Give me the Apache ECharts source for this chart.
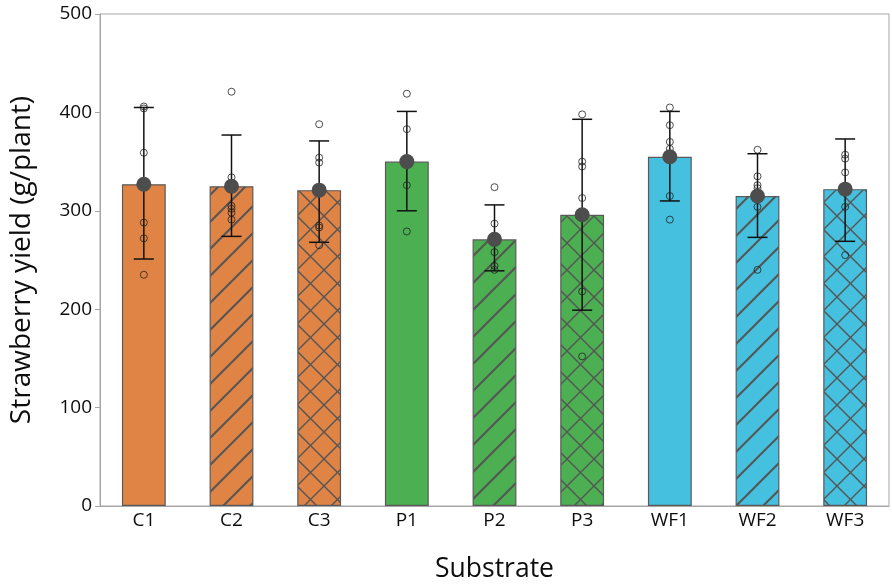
<!DOCTYPE html>
<html>
<head>
<meta charset="utf-8">
<script src="https://cdn.jsdelivr.net/npm/echarts@6/dist/echarts.min.js"></script>
<style>
  html, body { margin: 0; padding: 0; background: #fff; }
  #chart { width: 892px; height: 588px; }
</style>
</head>
<body>
<div id="chart"></div>
<script>
const categories = ["C1", "C2", "C3", "P1", "P2", "P3", "WF1", "WF2", "WF3"];
const means = [327, 325, 321, 350, 271, 296, 355, 315, 322];
const errLow = [251, 274, 268, 300, 239, 199, 310, 273, 269];
const errHigh = [405, 377, 371, 401, 306, 393, 401, 358, 373];
const points = [
  [406, 404, 359, 288, 272, 235],
  [421, 334, 305, 302, 298, 291],
  [388, 354, 349, 285, 283, 265],
  [419, 383, 350, 326, 279],
  [324, 287, 258, 244, 240],
  [398, 350, 345, 313, 218, 152],
  [405, 387, 370, 363, 315, 291],
  [362, 335, 326, 323, 304, 240],
  [357, 353, 339, 304, 255]
];
const yTicks = [0, 100, 200, 300, 400, 500];

const ORANGE = "#e08446";
const GREEN = "#4caf52";
const BLUE = "#45c0df";
const barColors = [ORANGE, ORANGE, ORANGE, GREEN, GREEN, GREEN, BLUE, BLUE, BLUE];
const hatches = ["none", "diag", "cross", "none", "diag", "cross", "none", "diag", "cross"];

// patrón de relleno con rayado
function makePattern(bg, kind) {
  if (kind === "none") return bg;
  const s = 27;
  const c = document.createElement("canvas");
  c.width = s; c.height = s;
  const ctx = c.getContext("2d");
  ctx.fillStyle = bg;
  ctx.fillRect(0, 0, s, s);
  ctx.strokeStyle = "#555555";
  ctx.lineCap = "square";
  const seg = (x1, y1, x2, y2) => { ctx.beginPath(); ctx.moveTo(x1, y1); ctx.lineTo(x2, y2); ctx.stroke(); };
  if (kind === "diag") {
    ctx.lineWidth = 2;
    seg(0, s, s, 0);
    seg(-2, 2, 2, -2);
    seg(s - 2, s + 2, s + 2, s - 2);
  } else {
    ctx.lineWidth = 1.4;
    seg(0, s, s, 0);
    seg(-2, 2, 2, -2);
    seg(s - 2, s + 2, s + 2, s - 2);
    seg(0, 0, s, s);
    seg(-2, s - 2, 2, s + 2);
    seg(s - 2, -2, s + 2, 2);
  }
  return { image: c, repeat: "repeat" };
}

const barData = means.map((v, i) => ({
  value: v,
  itemStyle: { color: makePattern(barColors[i], hatches[i]) }
}));

const errData = categories.map((c, i) => [i, errLow[i], errHigh[i]]);
const pointData = [];
points.forEach((arr, i) => arr.forEach(v => pointData.push([i, v])));
const meanData = means.map((v, i) => [i, v]);

const chart = echarts.init(document.getElementById("chart"));
const axisGray = "#a6a6a6";
const font = "'Open Sans', 'Noto Sans', sans-serif";

chart.setOption({
  animation: false,
  grid: {
    left: 100, right: 3, top: 14, bottom: 80,
    show: true, borderColor: axisGray, borderWidth: 1
  },
  xAxis: {
    type: "category",
    data: categories,
    name: "Substrate",
    nameLocation: "middle",
    nameGap: 50,
    nameTextStyle: { fontSize: 26.5, color: "#0d0d0d", fontFamily: font },
    axisLine: { lineStyle: { color: axisGray } },
    axisTick: { alignWithLabel: true, length: 5, lineStyle: { color: axisGray } },
    axisLabel: { fontSize: 19, color: "#0d0d0d", margin: 5, fontFamily: font }
  },
  yAxis: {
    type: "value",
    min: 0, max: 500, interval: 100,
    name: "Strawberry yield (g/plant)",
    nameLocation: "middle",
    nameGap: 64,
    nameTextStyle: { fontSize: 28, color: "#0d0d0d", fontFamily: font },
    axisLine: { show: true, lineStyle: { color: axisGray } },
    axisTick: { show: true, length: 5, lineStyle: { color: axisGray } },
    splitLine: { show: false },
    axisLabel: {
      fontSize: 19, color: "#0d0d0d", margin: 8, fontFamily: font,
      formatter: v => yTicks.includes(v) ? String(v) : ""
    }
  },
  series: [
    {
      type: "bar",
      data: barData,
      barWidth: "50%",
      itemStyle: { borderColor: "#5a5a5a", borderWidth: 1.2 },
      emphasis: { disabled: true },
      z: 1
    },
    {
      type: "custom",
      data: errData,
      z: 3,
      renderItem: (params, api) => {
        const x = api.value(0);
        const lo = api.coord([x, api.value(1)]);
        const hi = api.coord([x, api.value(2)]);
        const hw = 10;
        const st = { stroke: "#111", lineWidth: 1.5 };
        return {
          type: "group",
          children: [
            { type: "line", shape: { x1: lo[0], y1: lo[1], x2: hi[0], y2: hi[1] }, style: st },
            { type: "line", shape: { x1: lo[0] - hw, y1: lo[1], x2: lo[0] + hw, y2: lo[1] }, style: st },
            { type: "line", shape: { x1: hi[0] - hw, y1: hi[1], x2: hi[0] + hw, y2: hi[1] }, style: st }
          ]
        };
      }
    },
    {
      type: "scatter",
      data: pointData,
      symbol: "circle",
      symbolSize: 7,
      itemStyle: { color: "rgba(0,0,0,0)", borderColor: "#222", borderWidth: 1 },
      emphasis: { disabled: true },
      z: 4
    },
    {
      type: "scatter",
      data: meanData,
      symbol: "circle",
      symbolSize: 15,
      itemStyle: { color: "#4d4d4d", opacity: 1 },
      emphasis: { disabled: true },
      z: 5
    }
  ]
});
</script>
</body>
</html>
